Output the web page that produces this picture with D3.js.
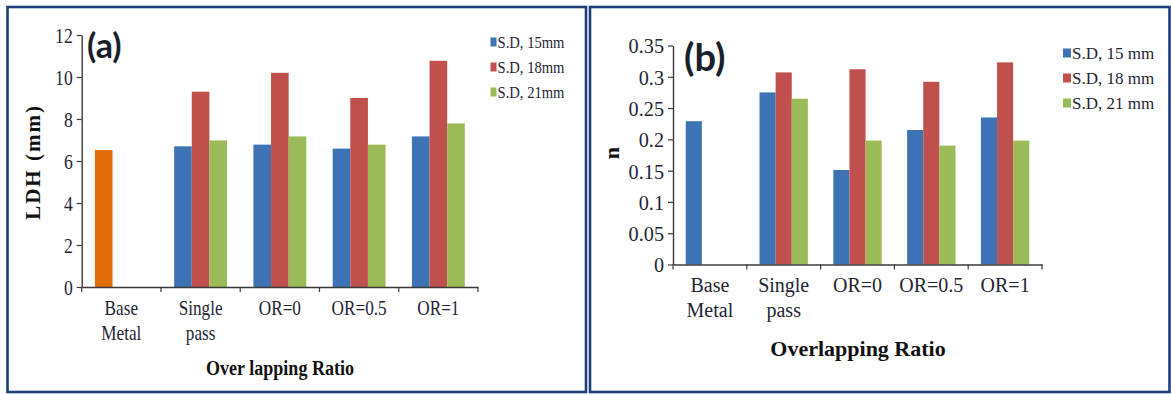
<!DOCTYPE html>
<html>
<head>
<meta charset="utf-8">
<script src="https://cdn.jsdelivr.net/npm/d3@7"></script>
<style>
  html, body { margin: 0; padding: 0; background: #fff; }
  svg { display: block; }
</style>
</head>
<body>
<svg id="chart" width="1171" height="395"></svg>
<script>
// Categories along the x axis (split into two lines where needed)
const categories = ["Base Metal", "Single pass", "OR=0", "OR=0.5", "OR=1"];
const categoryLines = [["Base", "Metal"], ["Single", "pass"], ["OR=0"], ["OR=0.5"], ["OR=1"]];

// (a) Limiting dome height, mm, per stand-off distance
const ldh15 = [6.52, 6.70, 6.78, 6.59, 7.17];
const ldh18 = [null, 9.30, 10.20, 9.00, 10.77];
const ldh21 = [null, 6.98, 7.17, 6.78, 7.79];
const ldhTicks = [0, 2, 4, 6, 8, 10, 12];
const ldhTickLabels = ["0", "2", "4", "6", "8", "10", "12"];
const ldhLegend = ["S.D, 15mm", "S.D, 18mm", "S.D, 21mm"];

// (b) Strain hardening exponent n, per stand-off distance
const n15 = [0.229, 0.275, 0.151, 0.215, 0.235];
const n18 = [null, 0.307, 0.312, 0.292, 0.323];
const n21 = [null, 0.265, 0.198, 0.190, 0.198];
const nTicks = [0, 0.05, 0.1, 0.15, 0.2, 0.25, 0.3, 0.35];
const nTickLabels = ["0", "0.05", "0.1", "0.15", "0.2", "0.25", "0.3", "0.35"];
const nLegend = ["S.D, 15 mm", "S.D, 18 mm", "S.D, 21 mm"];

const seriesColors = ["#3d72b4", "#c0504d", "#9bbb59"];
const baseMetalColor = "#e36c0a";
const textColor = "#1f2535";
const axisColor = "#3a3a3a";
const frameColor = "#1c3f7c";
const serif = "'Liberation Serif', 'Times New Roman', serif";

const svg = d3.select("#chart");

// panel frames
[[7.5, 7, 578.5, 385], [590, 7, 579.5, 385]].forEach(([x, y, w, h]) => {
  svg.append("rect").attr("x", x).attr("y", y).attr("width", w).attr("height", h)
    .attr("fill", "none").attr("stroke", frameColor).attr("stroke-width", 2.6);
});

// place a text horizontally squeezed by sx around its anchor
function squeeze(sel, x, y, sx) {
  return sel.attr("transform", `translate(${x},${y}) scale(${sx},1)`)
    .style("font-family", serif);
}

function drawPanel(p) {
  const g = svg.append("g");
  const y = d3.scaleLinear().domain([0, p.yMax]).range([p.bottom, p.top]);
  const x0 = d3.scaleBand().domain(categories).range([p.left, p.right])
    .paddingInner(p.gap).paddingOuter(p.gap / 2);
  const x1 = d3.scaleBand().domain(d3.range(p.series.length)).range([0, x0.bandwidth()]);

  // bars
  p.series.forEach((vals, si) => {
    g.append("g").selectAll("rect")
      .data(vals.map((v, i) => ({ v, c: categories[i] })).filter(d => d.v != null))
      .join("rect")
      .attr("x", d => x0(d.c) + x1(si))
      .attr("width", x1.bandwidth())
      .attr("y", d => y(d.v))
      .attr("height", d => y(0) - y(d.v))
      .attr("fill", d => (p.baseColor && d.c === "Base Metal") ? p.baseColor : seriesColors[si]);
  });

  // y axis
  const ya = g.append("g").attr("transform", `translate(${p.left},0)`)
    .call(d3.axisLeft(y).tickValues(p.ticks).tickSize(5).tickSizeOuter(0)
      .tickFormat((d, i) => p.tickLabels[i]));
  ya.select(".domain").attr("stroke", axisColor).attr("stroke-width", 1.4);
  ya.selectAll(".tick line").attr("stroke", axisColor).attr("stroke-width", 1.2);
  ya.selectAll(".tick text").each(function () {
    d3.select(this).attr("x", null).attr("dy", "0.34em")
      .attr("transform", `translate(-9,0) scale(${p.tickSx},1)`)
      .attr("font-size", p.tickFont).attr("fill", textColor)
      .style("font-family", serif);
  });

  // x axis line with ticks at category boundaries
  const xa = g.append("g").attr("transform", `translate(0,${p.bottom})`)
    .call(d3.axisBottom(x0).tickSize(0).tickSizeOuter(0).tickFormat(""));
  xa.select(".domain").attr("stroke", axisColor).attr("stroke-width", 1.4);
  xa.selectAll(".tick").remove();
  d3.range(categories.length + 1).forEach(i => {
    const bx = p.left + i * x0.step();
    g.append("line").attr("x1", bx).attr("x2", bx).attr("y1", p.bottom).attr("y2", p.bottom + 5)
      .attr("stroke", axisColor).attr("stroke-width", 1.2);
  });

  // category labels
  categories.forEach((c, i) => {
    const cx = x0(c) + x0.bandwidth() / 2;
    categoryLines[i].forEach((line, li) => {
      squeeze(g.append("text"), cx, p.catY + li * p.catLine, p.sx)
        .attr("text-anchor", "middle").attr("font-size", p.catFont)
        .attr("fill", textColor).text(line);
    });
  });

  // axis titles
  squeeze(g.append("text"), p.xTitle[0], p.xTitle[1], p.sx)
    .attr("text-anchor", "middle").attr("font-size", p.xTitleFont)
    .attr("font-weight", "bold").attr("fill", "#111").text(p.xTitleText);
  g.append("text")
    .attr("transform", `translate(${p.yTitle[0]},${p.yTitle[1]}) rotate(-90)`)
    .attr("text-anchor", "middle").attr("dy", "0.35em")
    .attr("font-size", p.yTitleFont).attr("font-weight", "bold")
    .attr("letter-spacing", p.yTitleSpacing).attr("fill", "#111")
    .style("font-family", serif).text(p.yTitleText);

  // panel letter
  g.append("text").attr("x", p.tag[0]).attr("y", p.tag[1])
    .style("font-family", "Lato, 'Open Sans', sans-serif").attr("font-weight", "bold")
    .attr("font-size", p.tagFont).attr("fill", "#1a1f2e").text(p.tagText);

  // legend
  p.legend.forEach((lab, i) => {
    const ly = p.legendY + i * p.legendStep;
    g.append("rect").attr("x", p.legendX).attr("y", ly - 4.5)
      .attr("width", p.swatchW).attr("height", 9).attr("fill", seriesColors[i]);
    squeeze(g.append("text"), p.legendX + p.swatchW + 1, ly, p.sx)
      .attr("dy", "0.35em").attr("font-size", p.legendFont)
      .attr("fill", textColor).text(lab);
  });
}

drawPanel({
  series: [ldh15, ldh18, ldh21], yMax: 12, ticks: ldhTicks, tickLabels: ldhTickLabels,
  baseColor: baseMetalColor,
  left: 81.7, right: 478, top: 35, bottom: 287, gap: 0.333, sx: 0.86,
  tickFont: 22, tickSx: 0.8, catFont: 20, catY: 315, catLine: 25,
  xTitle: [280, 375], xTitleText: "Over lapping Ratio", xTitleFont: 21,
  yTitle: [33, 162], yTitleText: "LDH (mm)", yTitleFont: 21, yTitleSpacing: 2,
  tag: [87, 58], tagText: "(a)", tagFont: 34,
  legend: ldhLegend, legendX: 490.5, legendY: 42, legendStep: 25, swatchW: 6, legendFont: 17
});

drawPanel({
  series: [n15, n18, n21], yMax: 0.35, ticks: nTicks, tickLabels: nTickLabels,
  baseColor: null,
  left: 673, right: 1042, top: 45.5, bottom: 264.5, gap: 0.345, sx: 1,
  tickFont: 22, tickSx: 0.92, catFont: 20, catY: 292, catLine: 25,
  xTitle: [858, 356], xTitleText: "Overlapping Ratio", xTitleFont: 22,
  yTitle: [611, 153], yTitleText: "n", yTitleFont: 22, yTitleSpacing: 0,
  tag: [684, 71], tagText: "(b)", tagFont: 38,
  legend: nLegend, legendX: 1063, legendY: 53, legendStep: 25, swatchW: 8, legendFont: 17
});
</script>
</body>
</html>
